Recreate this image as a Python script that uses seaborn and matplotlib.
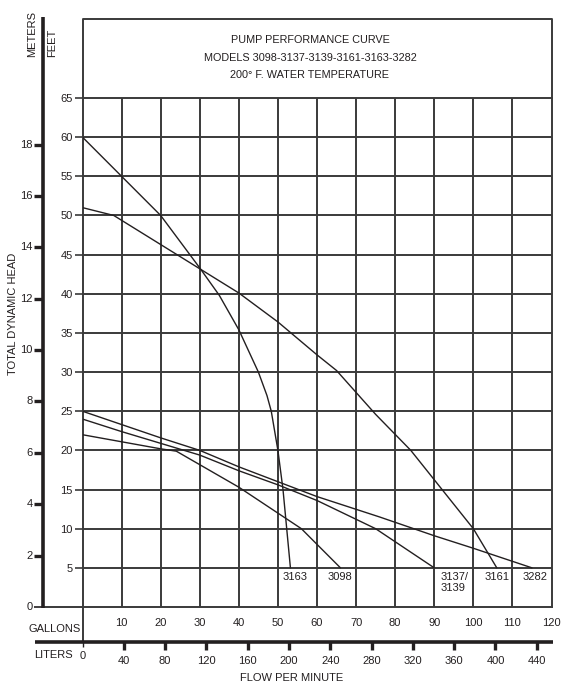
import matplotlib
matplotlib.use("Agg")
import matplotlib.pyplot as plt
import seaborn as sns
import pandas as pd

# curve data: flow in gallons/min, head in feet
models = ["3163", "3161", "3098", "3137/\n3139", "3282"]
gal_3163 = [0, 10, 20, 30, 35, 40, 45, 47.2, 48.3, 50, 51.3, 53.2]
ft_3163 = [60, 55, 50, 43.3, 39.8, 35.4, 30, 27, 25, 20, 15, 5]
gal_3161 = [0, 8, 40, 50, 60, 65, 75, 84, 100, 106]
ft_3161 = [51, 50, 40.1, 36.4, 32.2, 30.2, 24.6, 20, 10, 5]
gal_3098 = [0, 10, 20, 24, 40, 56, 66]
ft_3098 = [22, 21.1, 20.2, 19.9, 15.3, 10, 5]
gal_3137 = [0, 10, 20, 30, 40, 50, 60, 75, 90]
ft_3137 = [24, 22.4, 20.9, 19.4, 17.4, 15.6, 13.6, 10, 5]
gal_3282 = [0, 20, 30, 40, 50, 60, 76, 90, 100, 115]
ft_3282 = [25, 21.6, 20, 17.9, 16, 14.1, 11.5, 9.1, 7.5, 5]

gallon_ticks = list(range(10, 130, 10))
feet_ticks = list(range(5, 70, 5))
meter_ticks = list(range(0, 20, 2))
liter_ticks = list(range(40, 480, 40))

title_lines = ["PUMP PERFORMANCE CURVE",
               "MODELS 3098-3137-3139-3161-3163-3282",
               "200\u00b0 F. WATER TEMPERATURE"]

curves = pd.concat([
    pd.DataFrame({"gal": g, "ft": f, "model": m})
    for m, g, f in zip(models,
                       [gal_3163, gal_3161, gal_3098, gal_3137, gal_3282],
                       [ft_3163, ft_3161, ft_3098, ft_3137, ft_3282])
])

sns.set_style("white")
plt.rcParams["font.family"] = ["Liberation Sans Narrow", "Liberation Sans", "DejaVu Sans"]
FS = 8

fig = plt.figure(figsize=(5.65, 7.0), dpi=100)
ax = fig.add_axes([82.5 / 565, 1 - 607 / 700, 469 / 565, 509 / 700])

ink = "#231f20"
grid = "#3a3a3a"

for v in gallon_ticks[:-1]:
    ax.axvline(v, color=grid, lw=1.4, zorder=1)
for h in feet_ticks[:-1]:
    ax.axhline(h, color=grid, lw=1.4, zorder=1)

for m, sub in curves.groupby("model", sort=False):
    sns.lineplot(data=sub, x="gal", y="ft", ax=ax, color=ink, lw=1.0,
                 sort=False, estimator=None, legend=False, zorder=3)

ax.set_xlim(0, 120)
ax.set_ylim(0, 65)
ax.set_xlabel("")
ax.set_ylabel("")
for s in ax.spines.values():
    s.set_color(grid)
    s.set_linewidth(1.4)

ax.set_yticks(feet_ticks)
ax.set_yticklabels([str(t) for t in feet_ticks], color=ink, fontsize=FS)
ax.tick_params(axis="y", length=6, width=1.2, color=grid, pad=1, left=True)
ax.set_xticks(gallon_ticks)
ax.set_xticklabels([str(t) for t in gallon_ticks], color=ink, fontsize=FS)
ax.tick_params(axis="x", length=0, pad=8)

# model labels under curve ends
label_pos = {"3163": 51.3, "3098": 62.6, "3137/\n3139": 91.5, "3161": 103.0, "3282": 112.5}
for m, x in label_pos.items():
    ax.text(x, 4.5, m, ha="left", va="top", fontsize=FS, color=ink, linespacing=1.1)

kw = dict(color=grid, clip_on=False, zorder=4)
# title box
top = 75.1
ax.plot([0, 0, 120, 120], [65, top, top, 65], lw=1.4, **kw)
for i, t in enumerate(title_lines):
    ax.text(58.2, [72.4, 70.1, 68.0][i], t, ha="center", va="center", fontsize=7.8, color=ink)

# bottom line extended to meter axis, left spine down to liters axis
ax.plot([-10, 0], [0, 0], lw=1.4, **kw)
ax.plot([0, 0], [0, -4.4], lw=1.4, **kw)

# meters axis
kw2 = dict(color=ink, clip_on=False, zorder=4, solid_capstyle="butt")
ax.plot([-10, -10], [-0.15, 75.3], lw=2.6, **kw2)
for m in meter_ticks:
    yy = m * 3.2808
    ax.plot([-12.3, -10], [yy, yy], lw=2.4 if m else 1.2, **kw2)
    ax.text(-12.7, yy, str(m), ha="right", va="center", fontsize=FS, color=ink)

# liters axis
ax.plot([-12.2, 120.4], [-4.43, -4.43], lw=2.6, **kw2)
ax.plot([0, 0], [-4.43, -5.1], lw=1.0, **kw2)
ax.text(0, -6.25, "0", ha="center", va="center", fontsize=FS, color=ink)
for L in liter_ticks:
    xx = L / 3.7854
    ax.plot([xx, xx], [-4.43, -5.5], lw=2.4, **kw2)
    ax.text(xx, -6.95, str(L), ha="center", va="center", fontsize=FS, color=ink)

ax.text(-7.2, -2.87, "GALLONS", ha="center", va="center", fontsize=FS, color=ink)
ax.text(-7.4, -6.07, "LITERS", ha="center", va="center", fontsize=FS, color=ink)
ax.text(53.4, -9.07, "FLOW PER MINUTE", ha="center", va="center", fontsize=FS, color=ink)
ax.text(-17.9, 37.4, "TOTAL DYNAMIC HEAD", rotation=90, ha="center", va="center",
        fontsize=FS, color=ink)
ax.text(-12.9, 70.2, "METERS", rotation=90, ha="center", va="bottom", fontsize=FS, color=ink)
ax.text(-7.7, 70.2, "FEET", rotation=90, ha="center", va="bottom", fontsize=FS, color=ink)

fig.savefig("out.png", dpi=100, facecolor="white")
